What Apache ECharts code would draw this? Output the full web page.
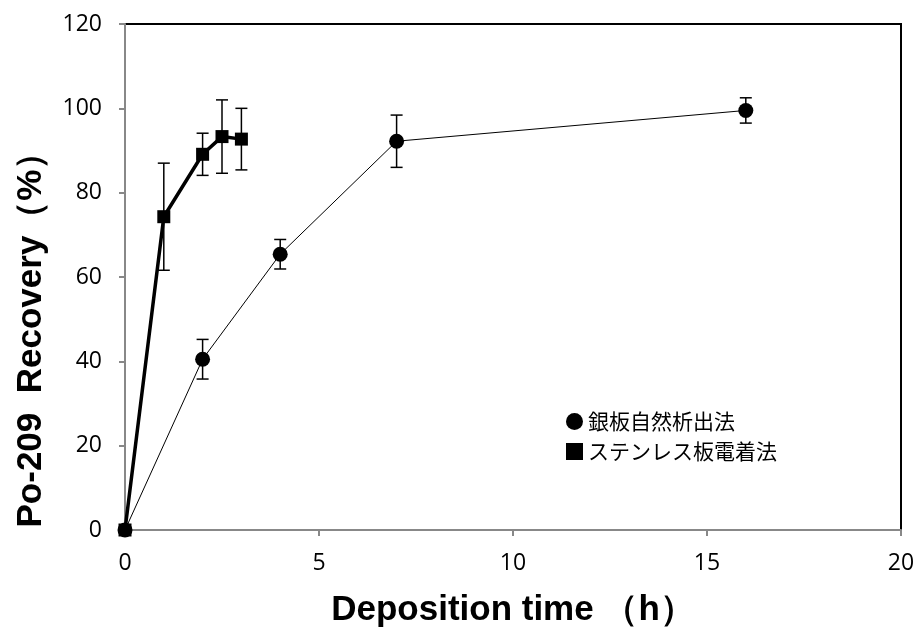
<!DOCTYPE html>
<html><head><meta charset="utf-8">
<script src="https://cdn.jsdelivr.net/npm/echarts@6/dist/echarts.min.js"></script>
<style>html,body{margin:0;padding:0;background:#fff}#c{width:918px;height:634px}</style>
</head><body><div id="c"></div>
<script>
const silverName = '銀板自然析出法';
const silverX = [0, 2, 4, 7, 16];
const silverY = [0, 40.5, 65.4, 92.2, 99.5];
const silverErr = [0, 4.7, 3.5, 6.2, 3.0];
const steelName = 'ステンレス板電着法';
const steelX = [0, 1, 2, 2.5, 3];
const steelY = [0, 74.3, 89.1, 93.3, 92.7];
const steelErr = [0, 12.7, 5.0, 8.7, 7.3];
const xTitle = 'Deposition time （h）';
const yTitle = 'Po-209  Recovery（%）';

const chart = echarts.init(document.getElementById('c'));
function pts(xs, ys){ return xs.map((x,i)=>[x, ys[i]]); }
function errs(xs, ys, es){ return xs.map((x,i)=>[x, ys[i]-es[i], ys[i]+es[i]]).filter((d,i)=>es[i]>0); }
function errItem(params, api){
  const x = api.value(0);
  const lo = api.coord([x, api.value(1)]);
  const hi = api.coord([x, api.value(2)]);
  const w = 6;
  const st = {stroke:'#000', lineWidth:1.5};
  return {type:'group', children:[
    {type:'line', shape:{x1:lo[0],y1:lo[1],x2:hi[0],y2:hi[1]}, style:st},
    {type:'line', shape:{x1:lo[0]-w,y1:lo[1],x2:lo[0]+w,y2:lo[1]}, style:st},
    {type:'line', shape:{x1:hi[0]-w,y1:hi[1],x2:hi[0]+w,y2:hi[1]}, style:st}
  ]};
}
chart.setOption({
  animation:false,
  grid:{left:125, top:24, right:17, bottom:104, containLabel:false, outerBoundsMode:'none',
    show:true, borderColor:'#000', borderWidth:2},
  legend:{
    orient:'vertical', left:566, top:411, padding:0, itemGap:9, itemWidth:17, itemHeight:17,
    textStyle:{fontSize:21, lineHeight:21, color:'#000', fontFamily:'Noto Sans CJK JP'},
    data:[{name:silverName, icon:'circle'},{name:steelName, icon:'rect'}]
  },
  graphic:[{
    type:'text', x:31, y:331, rotation:Math.PI/2,
    style:{text:yTitle, fontSize:35, fontWeight:'bold', fill:'#000', fontFamily:'Liberation Sans',
      align:'center', verticalAlign:'middle'}
  }],
  xAxis:{
    type:'value', min:0, max:20, interval:5,
    name:xTitle, nameLocation:'middle', nameGap:63,
    nameTextStyle:{fontSize:35, fontWeight:'bold', color:'#000', fontFamily:'Liberation Sans'},
    axisLine:{show:true, lineStyle:{color:'#888', width:2}},
    axisTick:{show:true, inside:false, length:6, lineStyle:{color:'#888', width:2}},
    axisLabel:{fontSize:23, color:'#000', margin:22, fontFamily:'Open Sans'},
    splitLine:{show:false}
  },
  yAxis:{
    type:'value', min:0, max:120, interval:20,
    axisLine:{show:true, lineStyle:{color:'#888', width:2}},
    axisTick:{show:true, inside:false, length:6, lineStyle:{color:'#888', width:2}},
    axisLabel:{fontSize:23, color:'#000', margin:23, fontFamily:'Open Sans'},
    splitLine:{show:false}
  },
  series:[
    {type:'custom', name:'silverErr', renderItem:errItem, data:errs(silverX, silverY, silverErr), z:3, silent:true},
    {type:'custom', name:'steelErr', renderItem:errItem, data:errs(steelX, steelY, steelErr), z:3, silent:true},
    {type:'line', name:silverName, data:pts(silverX, silverY), symbol:'circle', symbolSize:15,
      lineStyle:{color:'#000', width:1}, itemStyle:{color:'#000'}, z:4},
    {type:'line', name:steelName, data:pts(steelX, steelY), symbol:'rect', symbolSize:13,
      lineStyle:{color:'#000', width:3.5}, itemStyle:{color:'#000'}, z:5}
  ]
});
</script></body></html>
